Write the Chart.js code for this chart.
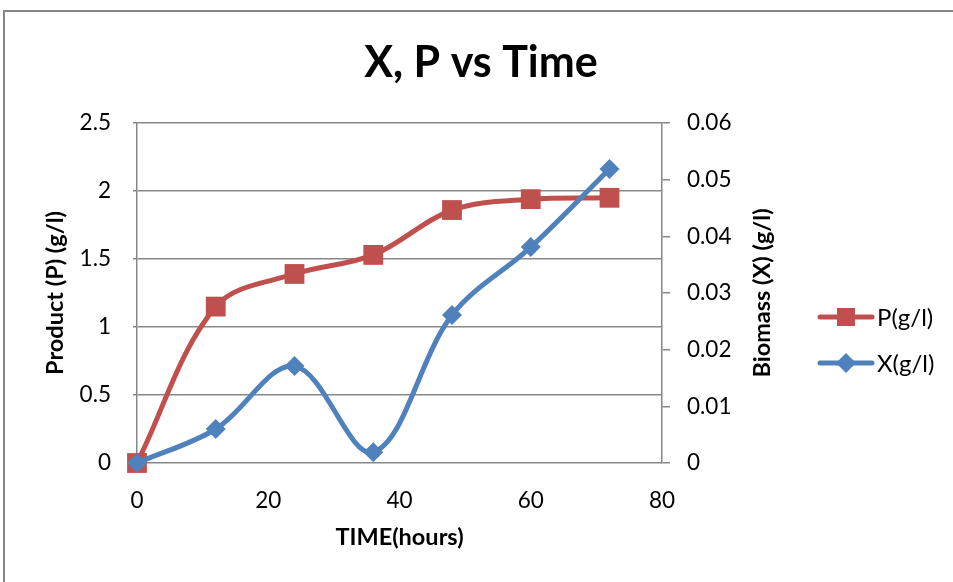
<!DOCTYPE html>
<html>
<head>
<meta charset="utf-8">
<script src="https://cdn.jsdelivr.net/npm/chart.js@4.4.0/dist/chart.umd.min.js"></script>
<style>
  html, body { margin: 0; padding: 0; background: #fff; }
  #wrap { position: relative; width: 953px; height: 582px; }
</style>
</head>
<body>
<div id="wrap"><canvas id="chart" width="953" height="582"></canvas></div>
<script>
// data
const time_h = [0, 12, 24, 36, 48, 60, 72]
const product_p = [0, 1.15, 1.39, 1.53, 1.86, 1.94, 1.95]
const biomass_x = [0, 0.006, 0.0171, 0.0019, 0.0261, 0.0381, 0.0519]
const x_ticks = [0, 20, 40, 60, 80]
const p_ticks = [0, 0.5, 1, 1.5, 2, 2.5]
const x_ticks_right = [0, 0.01, 0.02, 0.03, 0.04, 0.05, 0.06]

const FONT = 'Lato, "Open Sans", sans-serif'
const RED = '#C0504D', BLUE = '#4F81BD', GRID = '#878787'

const toPoints = (xs, ys) => xs.map((x, i) => ({x: x, y: ys[i]}))

// border, title, right axis title and excel style legend
const extras = {
    id: 'extras',
    afterDraw(chart){
        const ctx = chart.ctx
        const area = chart.chartArea
        ctx.save()
        ctx.strokeStyle = '#868686'
        ctx.lineWidth = 2
        ctx.beginPath()
        ctx.moveTo(4, 600)
        ctx.lineTo(4, 11)
        ctx.lineTo(960, 11)
        ctx.stroke()

        ctx.fillStyle = '#000'
        ctx.textAlign = 'center'
        ctx.textBaseline = 'middle'
        ctx.font = 'bold 43px ' + FONT
        ctx.fillText('X, P vs Time', 481, 63)

        ctx.save()
        ctx.translate(762, (area.top + area.bottom) / 2)
        ctx.rotate(-Math.PI / 2)
        ctx.font = 'bold 23.5px ' + FONT
        ctx.fillText('Biomass (X) (g/l)', 0, 0)
        ctx.restore()

        chart.data.datasets.forEach((ds, i) => {
            const y = 317 + i * 46
            ctx.strokeStyle = ds.borderColor
            ctx.lineWidth = 5
            ctx.lineCap = 'round'
            ctx.beginPath()
            ctx.moveTo(820, y)
            ctx.lineTo(872, y)
            ctx.stroke()
            ctx.fillStyle = ds.backgroundColor
            ctx.beginPath()
            if(ds.pointStyle === 'rect'){
                ctx.rect(837, y - 9, 18, 18)
            } else {
                ctx.moveTo(846, y - 10)
                ctx.lineTo(856, y)
                ctx.lineTo(846, y + 10)
                ctx.lineTo(836, y)
                ctx.closePath()
            }
            ctx.fill()
            ctx.fillStyle = '#000'
            ctx.font = '24px ' + FONT
            ctx.textAlign = 'left'
            ctx.fillText(ds.label, 877, y + 1)
        })
        ctx.restore()
    }
}

const tickFont = { family: FONT, size: 22.5 }
const titleFont = { family: FONT, size: 23.5, weight: 'bold' }

const config = {
    type: 'line',
    data: {
        datasets: [{
            label: 'P(g/l)',
            data: toPoints(time_h, product_p),
            yAxisID: 'yP',
            borderColor: RED,
            backgroundColor: RED,
            borderWidth: 5,
            pointStyle: 'rect',
            pointRadius: 14,
            pointBorderWidth: 0,
            tension: 0.35,
            clip: false,
            order: 2
        }, {
            label: 'X(g/l)',
            data: toPoints(time_h, biomass_x),
            yAxisID: 'yX',
            borderColor: BLUE,
            backgroundColor: BLUE,
            borderWidth: 5,
            pointStyle: 'rectRot',
            pointRadius: 10,
            pointBorderWidth: 0,
            tension: 0.35,
            clip: false,
            order: 1
        }]
    },
    options: {
        responsive: false,
        animation: false,
        events: [],
        layout: { padding: { left: 37, right: 178, top: 123, bottom: 26 } },
        plugins: {
            legend: { display: false },
            tooltip: { enabled: false },
            title: { display: false }
        },
        scales: {
            x: {
                type: 'linear',
                min: 0, max: 80,
                afterBuildTicks: s => { s.ticks = x_ticks.map(v => ({value: v})) },
                afterFit: s => { s.height = 93 },
                grid: { display: false },
                border: { display: false },
                ticks: { color: '#000', font: tickFont, padding: 16, maxRotation: 0, callback: v => String(v) },
                title: { display: true, text: 'TIME(hours)', color: '#000', font: titleFont, padding: { top: 4, bottom: 4 } }
            },
            yP: {
                position: 'left',
                min: 0, max: 2.5,
                afterBuildTicks: s => { s.ticks = p_ticks.map(v => ({value: v})) },
                afterFit: s => { s.width = 100 },
                grid: { color: GRID, lineWidth: 1.5, tickLength: 4 },
                border: { color: GRID, width: 1.5 },
                ticks: { color: '#000', font: tickFont, padding: 22, callback: v => String(v) },
                title: { display: true, text: 'Product (P) (g/l)', color: '#000', font: titleFont, padding: { top: 4, bottom: 4 } }
            },
            yX: {
                position: 'right',
                min: 0, max: 0.06,
                afterBuildTicks: s => { s.ticks = x_ticks_right.map(v => ({value: v})) },
                afterFit: s => { s.width = 113 },
                grid: { drawOnChartArea: false, color: GRID, lineWidth: 1.5, tickLength: 8 },
                border: { color: GRID, width: 1.5 },
                ticks: { color: '#000', font: tickFont, padding: 17, callback: v => String(v) }
            }
        }
    },
    plugins: [extras]
}

const result_chart = new Chart(document.getElementById('chart').getContext('2d'), config)
</script>
</body>
</html>
